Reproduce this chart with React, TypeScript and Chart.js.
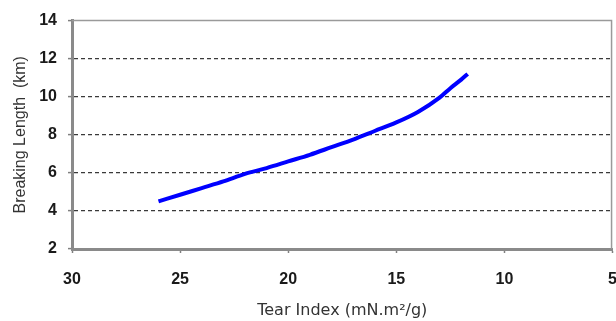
import React, { useEffect, useRef } from "react";
import { Chart, registerables } from "chart.js";

Chart.register(...registerables);

const tearIndex = [26, 25, 24, 23, 22, 21, 20, 19, 18, 17, 16, 15, 14, 13, 12.5, 12, 11.7];
const breakingLength = [4.5, 4.85, 5.2, 5.55, 5.95, 6.25, 6.6, 6.95, 7.35, 7.75, 8.2, 8.65, 9.2, 9.95, 10.45, 10.9, 11.2];
const xTicks = [30, 25, 20, 15, 10, 5];
const yTicks = [2, 4, 6, 8, 10, 12, 14];

const FONT = "'Liberation Sans', Arial, sans-serif";

const framePlugin = {
  id: "frame",
  afterDatasetsDraw(chart: any) {
    const { ctx, chartArea } = chart;
    ctx.save();
    ctx.strokeStyle = "#9a9a9a";
    ctx.lineWidth = 1.5;
    ctx.beginPath();
    ctx.moveTo(chartArea.left, chartArea.top);
    ctx.lineTo(chartArea.right - 1, chartArea.top);
    ctx.lineTo(chartArea.right - 1, chartArea.bottom);
    ctx.stroke();
    ctx.restore();
  },
};

export default function App() {
  const ref = useRef<HTMLCanvasElement>(null);
  useEffect(() => {
    document.body.style.margin = "0";
    document.body.style.overflow = "hidden";
    const chart = new Chart(ref.current!, {
      type: "line",
      data: {
        datasets: [
          {
            data: tearIndex.map((x, i) => ({ x, y: breakingLength[i] })),
            borderColor: "#0000ff",
            borderWidth: 4,
            pointRadius: 0,
            cubicInterpolationMode: "monotone",
            fill: false,
          },
        ],
      },
      options: {
        responsive: false,
        animation: false,
        layout: { padding: { top: 20, left: 0, right: 0, bottom: 0 } },
        plugins: { legend: { display: false }, tooltip: { enabled: false } },
        scales: {
          x: {
            type: "linear",
            min: 5,
            max: 30,
            reverse: true,
            afterBuildTicks: (s: any) => {
              s.ticks = xTicks.map((v) => ({ value: v }));
            },
            afterFit: (s: any) => {
              s.height = 72;
            },
            grid: {
              color: "transparent",
              drawTicks: true,
              tickLength: 4,
              tickColor: "#808080",
              tickWidth: 1.5,
            },
            border: { display: true, color: "#8a8a8a", width: 3 },
            ticks: {
              padding: 17,
              color: "#1a1a1a",
              font: { family: FONT, size: 16, weight: "bold" },
              maxRotation: 0,
              autoSkip: false,
            },
            title: {
              display: true,
              text: "Tear Index (mN.m²/g)",
              color: "#333333",
              font: { family: "'DejaVu Sans', sans-serif", size: 16 },
              padding: { top: 0, bottom: 1 },
            },
          },
          y: {
            type: "linear",
            min: 2,
            max: 14,
            afterBuildTicks: (s: any) => {
              s.ticks = yTicks.map((v) => ({ value: v }));
            },
            afterFit: (s: any) => {
              s.width = 72;
            },
            grid: {
              color: (c: any) =>
                c.tick && (c.tick.value === 2 || c.tick.value === 14) ? "transparent" : "#3a3a3a",
              lineWidth: 1.2,
              drawTicks: true,
              tickLength: 4,
              tickColor: "#808080",
              tickWidth: 1.5,
            },
            border: { display: true, color: "#8a8a8a", width: 3, dash: [4, 3] },
            ticks: {
              padding: 11,
              color: "#1a1a1a",
              font: { family: FONT, size: 16, weight: "bold" },
              autoSkip: false,
            },
            title: {
              display: true,
              text: "Breaking Length  (km)",
              color: "#333333",
              font: { family: FONT, size: 16 },
              padding: { top: 11, bottom: 0 },
            },
          },
        },
      } as any,
      plugins: [framePlugin],
    });
    return () => chart.destroy();
  }, []);
  return <canvas ref={ref} width={634} height={321} style={{ display: "block" }} />;
}
